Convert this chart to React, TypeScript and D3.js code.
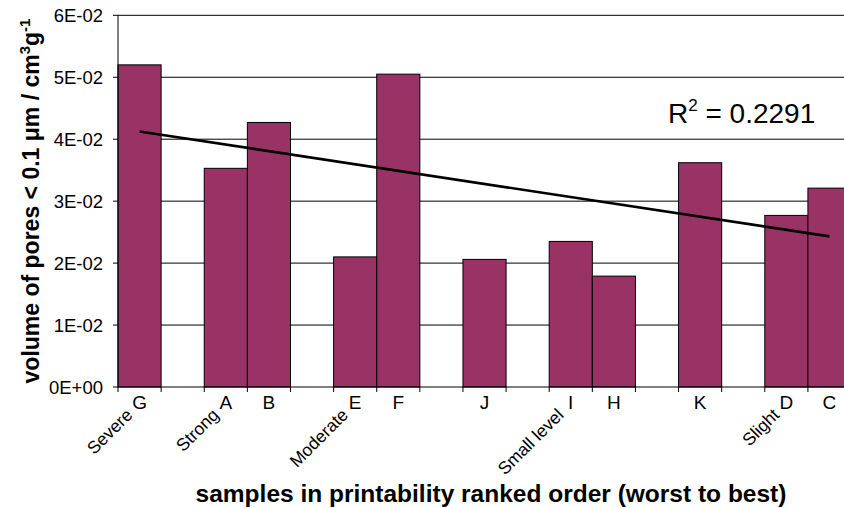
import React from "react";
import * as d3 from "d3";

const categories = ["G", "", "A", "B", "", "E", "F", "", "J", "", "I", "H", "", "K", "", "D", "C"];
const values: (number | null)[] = [0.052, null, 0.0353, 0.0427, null, 0.021, 0.0505, null, 0.0206, null, 0.0235, 0.0179, null, 0.0362, null, 0.0277, 0.0321];
const groupLabels = ["Severe", "", "Strong", "", "", "Moderate", "", "", "", "", "Small level", "", "", "", "", "Slight", ""];
const yTicks = [0, 0.01, 0.02, 0.03, 0.04, 0.05, 0.06];
const yTickLabels = ["0E+00", "1E-02", "2E-02", "3E-02", "4E-02", "5E-02", "6E-02"];
const r2Label = "0.2291";

const W = 844;
const H = 508;
const left = 118;
const top = 15.3;
const bottom = 387;
const slot = 43.12;

export default function App() {
  const idx = categories.map((_, i) => String(i));
  const x = d3.scaleBand().domain(idx).range([left, left + slot * categories.length]).padding(0);
  const y = d3.scaleLinear().domain([0, 0.06]).range([bottom, top]);
  const font = "'Liberation Sans', Arial, sans-serif";

  // linear trendline (least squares over present points)
  const pts = values.map((v, i) => [i, v] as [number, number | null]).filter((p) => p[1] !== null) as [number, number][];
  const mx = d3.mean(pts, (p) => p[0])!;
  const my = d3.mean(pts, (p) => p[1])!;
  const sxy = d3.sum(pts, (p) => (p[0] - mx) * (p[1] - my));
  const sxx = d3.sum(pts, (p) => (p[0] - mx) ** 2);
  const slope = sxy / sxx;
  const icpt = my - slope * mx;
  const tx0 = 0;
  const tx1 = categories.length - 1;
  const cx = (i: number) => x(String(i))! + x.bandwidth() / 2;
  const line = d3.line<[number, number]>().x((d) => cx(d[0])).y((d) => y(d[1]));
  const trend = line([
    [tx0, icpt + slope * tx0],
    [tx1, icpt + slope * tx1],
  ]);

  const rightEdge = W + 10;

  return (
    <svg width={W} height={H} style={{ position: "absolute", left: 0, top: 0, background: "#fff" }}>
      <rect x={0} y={0} width={W} height={H} fill="#fff" />
      {/* gridlines */}
      {yTicks.slice(1).map((t) => (
        <line key={t} x1={left} x2={rightEdge} y1={y(t)} y2={y(t)} stroke="#000" strokeWidth={1} />
      ))}
      {/* bars */}
      {values.map((v, i) =>
        v === null ? null : (
          <rect
            key={i}
            x={x(String(i))}
            y={y(v)}
            width={x.bandwidth()}
            height={bottom - y(v)}
            fill="#993366"
            stroke="#000"
            strokeWidth={1}
          />
        )
      )}
      {/* trendline */}
      <path d={trend || ""} fill="none" stroke="#000" strokeWidth={2.7} />
      {/* y axis */}
      <line x1={left} x2={left} y1={top} y2={bottom} stroke="#000" strokeWidth={1} />
      {yTicks.map((t, i) => (
        <g key={t}>
          <line x1={left - 5} x2={left} y1={y(t)} y2={y(t)} stroke="#000" strokeWidth={1} />
          <text x={103} y={y(t) + 6.5} textAnchor="end" fontFamily={font} fontSize={18.5} fill="#000">
            {yTickLabels[i]}
          </text>
        </g>
      ))}
      {/* x axis */}
      <line x1={left} x2={rightEdge} y1={bottom} y2={bottom} stroke="#000" strokeWidth={1} />
      {d3.range(categories.length + 1).map((i) => (
        <line key={i} x1={left + i * x.bandwidth()} x2={left + i * x.bandwidth()} y1={bottom} y2={bottom + 5} stroke="#000" strokeWidth={1} />
      ))}
      {categories.map((c, i) =>
        c ? (
          <text key={i} x={cx(i)} y={409} textAnchor="middle" fontFamily={font} fontSize={19} fill="#000">
            {c}
          </text>
        ) : null
      )}
      {groupLabels.map((g, i) =>
        g ? (
          <text
            key={"g" + i}
            transform={`translate(${cx(i) - 6},${416}) rotate(-45)`}
            textAnchor="end"
            fontFamily={font}
            fontSize={17.5}
            fill="#000"
          >
            {g}
          </text>
        ) : null
      )}
      {/* R2 */}
      <text x={668} y={123} fontFamily={font} fontSize={28} fill="#000">
        R<tspan dy={-12} fontSize={17}>2</tspan>
        <tspan dy={12}>{" = " + r2Label}</tspan>
      </text>
      {/* y title */}
      <text
        transform={`translate(39,${201}) rotate(-90)`}
        textAnchor="middle"
        fontFamily={font}
        fontSize={23}
        fontWeight="bold"
        fill="#000"
      >
        volume of pores &lt; 0.1 μm / cm<tspan dy={-9} fontSize={15}>3</tspan>
        <tspan dy={9}>g</tspan>
        <tspan dy={-9} fontSize={15}>-1</tspan>
      </text>
      {/* x title */}
      <text x={491} y={502} textAnchor="middle" fontFamily={font} fontSize={24.5} fontWeight="bold" fill="#000">
        samples in printability ranked order (worst to best)
      </text>
    </svg>
  );
}
